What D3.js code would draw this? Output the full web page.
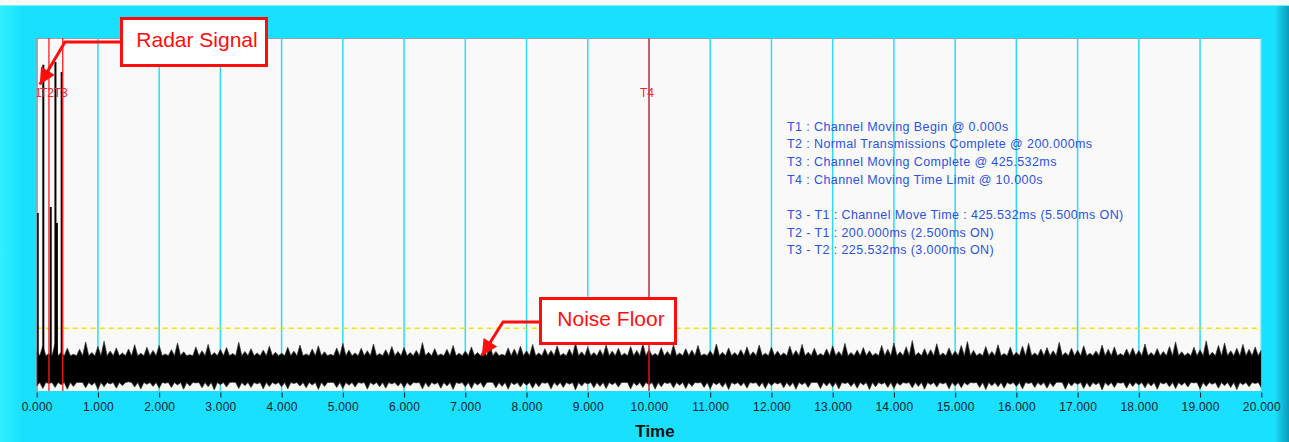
<!DOCTYPE html>
<html>
<head>
<meta charset="utf-8">
<script src="https://cdn.jsdelivr.net/npm/d3@7/dist/d3.min.js"></script>
<style>
  html, body { margin: 0; padding: 0; background: #f8f8f8; }
  svg { display: block; font-family: "Liberation Sans", Arial, sans-serif; }
</style>
</head>
<body>
<div id="chart"></div>
<script>
// x axis ticks (seconds)
const tickValues = d3.range(0, 21);

// markers T1..T4 (seconds)
const markerNames = ["T1", "T2", "T3", "T4"];
const markerTimes = [0, 0.2, 0.425532, 10];

// radar pulses: time (s) and peak amplitude (arbitrary units, 0-100)
const pulseTimes = [0.017, 0.108, 0.229, 0.306, 0.330, 0.408];
const pulseAmps  = [50.4, 92.4, 52.1, 93.2, 47.6, 90.4];

// noise floor threshold (dashed yellow)
const floorLevel = 17.8;

// solid body of the noise trace
const noiseBodyHi = 10.0;
const noiseBodyLo = 2.4;

// noise peaks, one value every 0.1 s from 0 to 20 s
const noiseHi = [
  11.2, 12.8, 10.6, 13.4, 11.0, 12.1, 10.4, 11.8, 13.9, 10.9, 12.6, 14.1, 11.3, 12.2, 10.8, 11.9, 13.1, 10.7, 12.4, 11.5,
  12.9, 10.5, 11.7, 13.6, 11.1, 10.3, 12.5, 11.4, 13.2, 10.9, 11.8, 12.3, 10.6, 13.8, 11.2, 12.0, 10.8, 11.6, 12.7, 11.0,
  10.7, 12.4, 11.3, 13.0, 10.5, 11.9, 12.8, 11.1, 10.4, 12.2, 13.5, 11.6, 10.8, 12.1, 11.4, 13.3, 10.6, 11.7, 12.6, 11.2,
  12.3, 10.9, 11.5, 13.7, 11.0, 12.0, 10.5, 11.8, 12.9, 10.7, 11.3, 12.5, 10.9, 11.6, 13.1, 11.2, 10.4, 12.2, 11.9, 12.7,
  11.4, 13.2, 10.8, 12.0, 11.5, 12.8, 10.6, 11.9, 13.6, 11.1, 12.4, 10.9, 11.7, 13.0, 11.3, 12.1, 10.7, 12.6, 11.5, 13.4,
  11.8, 10.6, 12.3, 11.2, 13.1, 10.8, 12.0, 11.6, 12.9, 10.5, 11.4, 13.3, 11.0, 12.2, 10.9, 11.7, 12.5, 11.1, 13.0, 10.7,
  12.4, 11.3, 10.8, 12.7, 11.5, 13.2, 11.0, 12.1, 10.6, 11.9, 12.8, 11.2, 13.5, 10.9, 11.6, 12.3, 11.4, 10.7, 12.9, 11.8,
  13.6, 11.1, 12.5, 14.3, 10.9, 12.0, 11.7, 13.4, 10.8, 12.2, 11.3, 12.9, 14.0, 11.5, 10.7, 12.6, 11.2, 13.1, 10.6, 12.4,
  11.0, 12.7, 13.5, 10.8, 11.9, 12.3, 11.4, 13.8, 10.9, 12.1, 11.6, 12.8, 10.7, 11.3, 13.0, 11.8, 12.5, 10.6, 11.9, 12.2,
  11.5, 13.3, 10.9, 12.0, 11.2, 12.6, 13.9, 11.1, 10.8, 12.4, 11.7, 14.2, 11.0, 12.9, 13.6, 11.4, 12.1, 13.2, 11.8, 12.5,
  11.6
];
const noiseLo = [
  1.4, 0.7, 2.1, 1.0, 1.8, 0.5, 1.3, 2.4, 0.9, 1.6, 0.4, 1.2, 2.0, 0.8, 1.5, 2.6, 1.1, 0.6, 1.9, 1.3,
  0.8, 2.2, 1.0, 1.7, 0.5, 1.4, 2.3, 0.9, 1.2, 0.3, 1.8, 1.1, 2.5, 0.7, 1.5, 1.0, 2.0, 0.6, 1.3, 1.9,
  1.2, 0.6, 2.1, 1.4, 0.9, 1.7, 0.4, 1.3, 2.4, 1.0, 0.7, 1.6, 1.1, 2.2, 0.5, 1.8, 1.2, 0.8, 2.0, 1.4,
  0.9, 1.5, 2.3, 0.6, 1.1, 1.9, 0.8, 1.4, 0.4, 2.1, 1.2, 0.7, 1.7, 1.0, 2.5, 0.9, 1.3, 0.5, 1.8, 1.1,
  1.6, 0.8, 1.2, 2.2, 0.6, 1.5, 1.0, 1.9, 0.3, 1.4, 2.0, 0.9, 1.3, 0.7, 1.8, 1.1, 2.4, 0.6, 1.5, 1.0,
  1.7, 0.5, 1.2, 2.1, 0.9, 1.6, 0.7, 1.3, 2.3, 1.0, 0.6, 1.8, 1.1, 0.4, 1.9, 1.4, 0.8, 2.2, 1.2, 0.7,
  1.5, 2.0, 0.9, 1.3, 0.5, 1.8, 1.0, 2.4, 0.7, 1.4, 1.1, 0.6, 2.1, 1.3, 0.8, 1.7, 0.4, 1.2, 1.9, 1.0,
  0.7, 1.6, 2.2, 0.9, 1.3, 0.5, 1.8, 1.1, 2.0, 0.6, 1.4, 0.9, 1.7, 2.3, 1.0, 0.4, 1.5, 1.2, 0.8, 1.9,
  1.3, 0.6, 2.1, 1.0, 1.6, 0.8, 1.2, 2.5, 0.5, 1.4, 1.9, 0.7, 1.1, 1.8, 0.3, 1.5, 1.0, 2.2, 0.8, 1.3,
  1.7, 0.9, 1.4, 0.5, 2.0, 1.2, 0.7, 1.6, 1.1, 2.3, 0.6, 1.3, 1.9, 0.8, 1.5, 1.0, 0.4, 1.8, 1.2, 2.1,
  1.0
];

// summary text block
const infoLines = [
  "T1 : Channel Moving Begin @ 0.000s",
  "T2 : Normal Transmissions Complete @ 200.000ms",
  "T3 : Channel Moving Complete @ 425.532ms",
  "T4 : Channel Moving Time Limit @ 10.000s",
  "",
  "T3 - T1 : Channel Move Time : 425.532ms (5.500ms ON)",
  "T2 - T1 : 200.000ms (2.500ms ON)",
  "T3 - T2 : 225.532ms (3.000ms ON)"
];

const width = 1289, height = 442;
const plot = { left: 36.7, right: 1261.3, top: 38, bottom: 391 };

const svg = d3.select("#chart").append("svg")
    .attr("width", width)
    .attr("height", height);

// panel background
const defs = svg.append("defs");
const gl = defs.append("linearGradient").attr("id", "leftEdge");
gl.append("stop").attr("offset", "0%").attr("stop-color", "#2ef0ff");
gl.append("stop").attr("offset", "100%").attr("stop-color", "#1ae0ff");
const gr = defs.append("linearGradient").attr("id", "rightEdge");
gr.append("stop").attr("offset", "0%").attr("stop-color", "#18d8f6");
gr.append("stop").attr("offset", "100%").attr("stop-color", "#0a9cba");
defs.append("clipPath").attr("id", "plotClip")
  .append("rect")
    .attr("x", plot.left).attr("y", plot.top)
    .attr("width", plot.right - plot.left).attr("height", plot.bottom - plot.top);

svg.append("rect").attr("x", 0).attr("y", 5).attr("width", width).attr("height", height - 5).attr("fill", "#1ae0ff");
svg.append("rect").attr("x", 0).attr("y", 5).attr("width", 22).attr("height", height - 5).attr("fill", "url(#leftEdge)");
svg.append("rect").attr("x", 1276).attr("y", 5).attr("width", 13).attr("height", height - 5).attr("fill", "url(#rightEdge)");
svg.append("line").attr("x1", 0).attr("x2", width).attr("y1", 5.5).attr("y2", 5.5).attr("stroke", "#7af2ff");

const x = d3.scaleLinear().domain([0, 20]).range([plot.left, plot.right]);
const y = d3.scaleLinear().domain([0, 100]).range([plot.bottom, plot.top]);

// plot area
svg.append("rect")
    .attr("x", plot.left).attr("y", plot.top)
    .attr("width", plot.right - plot.left).attr("height", plot.bottom - plot.top)
    .attr("fill", "#f9f9f9");
svg.append("line")
    .attr("x1", plot.left).attr("x2", plot.right)
    .attr("y1", plot.top + 0.5).attr("y2", plot.top + 0.5)
    .attr("stroke", "#8fa3a8");

const g = svg.append("g").attr("clip-path", "url(#plotClip)");

// vertical grid
g.selectAll(".grid")
    .data(tickValues)
  .enter().append("line")
    .attr("class", "grid")
    .attr("x1", d => x(d)).attr("x2", d => x(d))
    .attr("y1", plot.top).attr("y2", plot.bottom)
    .attr("stroke", "#2adcf8")
    .attr("stroke-width", 1.5);

// noise floor threshold
g.append("line")
    .attr("x1", plot.left).attr("x2", plot.right)
    .attr("y1", y(floorLevel)).attr("y2", y(floorLevel))
    .attr("stroke", "#f2e200")
    .attr("stroke-width", 1.5)
    .attr("stroke-dasharray", "5,4");

// noise band: peaks at each sample, solid body in between
const noise = [];
noiseHi.forEach((h, i) => {
  noise.push({ t: i * 0.1, hi: h, lo: noiseLo[i] });
  if (i < noiseHi.length - 1) noise.push({ t: i * 0.1 + 0.05, hi: noiseBodyHi, lo: noiseBodyLo });
});
g.append("path")
    .datum(noise)
    .attr("fill", "#000")
    .attr("stroke", "#333")
    .attr("stroke-width", 0.7)
    .attr("d", d3.area()
        .x(d => x(d.t))
        .y0(d => y(d.lo))
        .y1(d => y(d.hi)));

// radar pulses
g.selectAll(".pulse")
    .data(pulseTimes.map((t, i) => ({ t: t, a: pulseAmps[i] })))
  .enter().append("line")
    .attr("class", "pulse")
    .attr("x1", d => x(d.t)).attr("x2", d => x(d.t))
    .attr("y1", y(4)).attr("y2", d => y(d.a))
    .attr("stroke", "#000")
    .attr("stroke-width", 2);

// markers
const markers = markerNames.map((n, i) => ({ name: n, t: markerTimes[i] }));
g.selectAll(".marker")
    .data(markers)
  .enter().append("line")
    .attr("class", "marker")
    .attr("x1", d => x(d.t)).attr("x2", d => x(d.t))
    .attr("y1", plot.top).attr("y2", plot.bottom)
    .attr("stroke", "#ff1a1a")
    .attr("stroke-width", 1.3);
g.selectAll(".markerLabel")
    .data(markers)
  .enter().append("text")
    .attr("class", "markerLabel")
    .attr("x", d => x(d.t) - 2)
    .attr("y", 97)
    .attr("text-anchor", "middle")
    .attr("fill", "#ff2020")
    .attr("font-size", "12px")
    .text(d => d.name);

// info block
svg.append("g").selectAll("text")
    .data(infoLines)
  .enter().append("text")
    .attr("x", 787)
    .attr("y", (d, i) => 130.5 + i * 17.7)
    .attr("fill", "#2a52e0")
    .attr("font-size", "12.5px")
    .attr("letter-spacing", "0.4px")
    .text(d => d);

// x axis
const axis = svg.append("g")
    .attr("transform", "translate(0," + (plot.bottom + 1.5) + ")")
    .call(d3.axisBottom(x)
        .tickValues(tickValues)
        .tickFormat(d3.format(".3f"))
        .tickSize(5)
        .tickPadding(5));
axis.select(".domain").remove();
axis.selectAll(".tick line").attr("stroke", "#111");
axis.selectAll(".tick text")
    .attr("fill", "#10222a")
    .attr("font-size", "12px")
    .attr("letter-spacing", "0.2px")
    .attr("font-family", "'Liberation Sans', Arial, sans-serif");

svg.append("text")
    .attr("x", (plot.left + plot.right) / 2 + 6)
    .attr("y", 437)
    .attr("text-anchor", "middle")
    .attr("font-size", "17px")
    .attr("font-weight", "bold")
    .attr("fill", "#111")
    .text("Time");

// callouts
function callout(box, label, baseline, path, tip) {
  const c = svg.append("g");
  c.append("path")
      .attr("d", d3.line()(path.concat([tip])))
      .attr("fill", "none")
      .attr("stroke", "#ff0d0d")
      .attr("stroke-width", 3);
  const last = path[path.length - 1];
  const ang = Math.atan2(tip[1] - last[1], tip[0] - last[0]);
  const L = 16, Wd = 8;
  const bx = tip[0] - L * Math.cos(ang), by = tip[1] - L * Math.sin(ang);
  c.append("path")
      .attr("d", d3.line()([
        tip,
        [bx + Wd * Math.sin(ang), by - Wd * Math.cos(ang)],
        [bx - Wd * Math.sin(ang), by + Wd * Math.cos(ang)]
      ]) + "Z")
      .attr("fill", "#ff0d0d");
  c.append("rect")
      .attr("x", box[0] + 1.5).attr("y", box[1] + 1.5)
      .attr("width", box[2] - box[0] - 3).attr("height", box[3] - box[1] - 3)
      .attr("fill", "#fff")
      .attr("stroke", "#ff0d0d")
      .attr("stroke-width", 3);
  c.append("text")
      .attr("x", (box[0] + box[2]) / 2 + 3)
      .attr("y", baseline)
      .attr("text-anchor", "middle")
      .attr("font-size", "21px")
      .attr("fill", "#ff0d0d")
      .text(label);
}

callout([120, 17, 268, 67], "Radar Signal", 47,
        [[121, 42], [65, 42]], [x(0.05), y(86.8)]);
callout([539, 297, 677, 345], "Noise Floor", 326,
        [[540, 322], [503, 322]], [x(7.27), y(10)]);
</script>
</body>
</html>
